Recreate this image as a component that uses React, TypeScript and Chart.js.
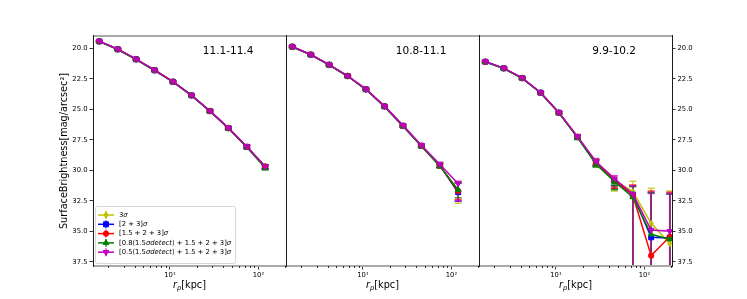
import { useEffect, useRef } from 'react';
import { Chart, registerables } from 'chart.js';

Chart.register(...registerables);
Chart.defaults.font.family = '"DejaVu Sans", sans-serif';

// ---------- data ----------
const RADII = [1.59, 2.57, 4.15, 6.7, 10.8, 17.5, 28.3, 45.7, 73.8, 119, 193];
const SERIES_LABELS = [
  '3σ',
  '[2 + 3]σ',
  '[1.5 + 2 + 3]σ',
  '[0.8(1.5σdetect) + 1.5 + 2 + 3]σ',
  '[0.5(1.5σdetect) + 1.5 + 2 + 3]σ',
];
const SERIES_COLORS = ['#bfbf00', '#0000ff', '#ff0000', '#008000', '#bf00bf'];
const SERIES_MARKERS = ['thinDiamond', 'rect', 'circle', 'triangle', 'triangleDown'];
const MARKER_RADII = [3, 3.5, 2.7, 3.3, 3.3];
const PANEL_TITLES = ['11.1-11.4', '10.8-11.1', '9.9-10.2'];
const Y_TICKS = [20, 22.5, 25, 27.5, 30, 32.5, 35, 37.5];
const X_MAJOR = [10, 100];
const X_MAJOR_LABELS = ['10¹', '10²'];
const X_MINOR = [2, 3, 4, 5, 6, 7, 8, 9, 20, 30, 40, 50, 60, 70, 80, 90, 200];
const Y_LIMITS = [18.99, 37.85];
const X_LIMITS = [1.349, 204.7];
const Y_TITLE = 'SurfaceBrightness[mag/arcsec²]';

// Panel A: 11.1-11.4
const A_3SIG = [19.43, 20.08, 20.9, 21.8, 22.74, 23.86, 25.14, 26.54, 28.07, 29.68];
const A_2_3 = [19.43, 20.08, 20.9, 21.8, 22.74, 23.86, 25.14, 26.54, 28.08, 29.72];
const A_15_2_3 = [19.43, 20.08, 20.9, 21.8, 22.74, 23.86, 25.14, 26.54, 28.08, 29.7];
const A_08 = [19.45, 20.1, 20.92, 21.82, 22.76, 23.88, 25.17, 26.57, 28.12, 29.82];
const A_05 = [19.42, 20.07, 20.89, 21.79, 22.73, 23.85, 25.13, 26.52, 28.05, 29.7];
const A_ERR = [0.06, 0.06, 0.06, 0.07, 0.07, 0.08, 0.09, 0.1, 0.12, 0.15];

// Panel B: 10.8-11.1
const B_3SIG = [19.87, 20.52, 21.35, 22.27, 23.36, 24.76, 26.35, 27.99, 29.6, 31.85];
const B_2_3 = [19.87, 20.52, 21.35, 22.27, 23.36, 24.76, 26.35, 27.99, 29.6, 31.8];
const B_15_2_3 = [19.87, 20.52, 21.35, 22.27, 23.36, 24.76, 26.36, 28.0, 29.62, 31.7];
const B_08 = [19.89, 20.54, 21.37, 22.29, 23.38, 24.79, 26.39, 28.03, 29.66, 31.62];
const B_05 = [19.86, 20.51, 21.34, 22.26, 23.35, 24.74, 26.32, 27.95, 29.5, 31.1];
const B_ERR = [0.06, 0.06, 0.06, 0.07, 0.07, 0.08, 0.09, 0.11, 0.15, 0.2];
// last point error bounds, per series
const B_TAIL_TOP = [[31.0], [31.05], [31.0], [31.0], [30.9]];
const B_TAIL_BOTTOM = [[32.7], [32.55], [32.4], [32.25], [32.5]];

// Panel C: 9.9-10.2
const C_3SIG = [21.1, 21.64, 22.44, 23.64, 25.28, 27.25, 29.35, 30.8, 31.75, 34.35, 36.0];
const C_2_3 = [21.1, 21.64, 22.44, 23.64, 25.28, 27.28, 29.4, 30.85, 32.0, 35.5, 35.55];
const C_15_2_3 = [21.1, 21.64, 22.44, 23.64, 25.28, 27.28, 29.4, 30.85, 32.05, 37.0, 35.45];
const C_08 = [21.12, 21.66, 22.46, 23.66, 25.3, 27.32, 29.5, 30.92, 32.2, 35.25, 35.65];
const C_05 = [21.08, 21.62, 22.42, 23.62, 25.26, 27.22, 29.28, 30.68, 31.95, 34.9, 35.0];
const C_ERR = [0.06, 0.06, 0.07, 0.07, 0.08, 0.15, 0.25, 0.3, 0.3, 0.3, 0.3];
// error bounds for the last four points, per series
const C_TAIL_TOP = [
  [31.05, 30.9, 31.48, 31.7],
  [31.25, 31.3, 31.8, 31.95],
  [31.35, 31.2, 31.7, 31.8],
  [31.2, 31.35, 31.85, 31.95],
  [30.45, 31.3, 31.9, 31.9],
];
const C_TAIL_BOTTOM = [
  [31.7, 45, 45, 45],
  [31.5, 45, 45, 45],
  [31.5, 45, 45, 45],
  [31.6, 45, 45, 45],
  [30.95, 45, 45, 45],
];

const PANELS = [
  { series: [A_3SIG, A_2_3, A_15_2_3, A_08, A_05], err: A_ERR, tailTop: null, tailBottom: null },
  { series: [B_3SIG, B_2_3, B_15_2_3, B_08, B_05], err: B_ERR, tailTop: B_TAIL_TOP, tailBottom: B_TAIL_BOTTOM },
  { series: [C_3SIG, C_2_3, C_15_2_3, C_08, C_05], err: C_ERR, tailTop: C_TAIL_TOP, tailBottom: C_TAIL_BOTTOM },
];

// ---------- drawing helpers ----------
function drawMarker(ctx: CanvasRenderingContext2D, style: string, x: number, y: number, r: number, color: string) {
  ctx.save();
  ctx.fillStyle = color;
  ctx.strokeStyle = color;
  ctx.lineWidth = 1;
  ctx.beginPath();
  if (style === 'thinDiamond') {
    ctx.moveTo(x, y - r * 1.1);
    ctx.lineTo(x + r * 0.66, y);
    ctx.lineTo(x, y + r * 1.1);
    ctx.lineTo(x - r * 0.66, y);
    ctx.closePath();
  } else if (style === 'rect') {
    const s = r * 1.414;
    ctx.rect(x - s / 2, y - s / 2, s, s);
  } else if (style === 'circle') {
    ctx.arc(x, y, r, 0, Math.PI * 2);
  } else if (style === 'triangle') {
    ctx.moveTo(x, y - r);
    ctx.lineTo(x + r * 0.866, y + r * 0.5);
    ctx.lineTo(x - r * 0.866, y + r * 0.5);
    ctx.closePath();
  } else {
    ctx.moveTo(x, y + r);
    ctx.lineTo(x + r * 0.866, y - r * 0.5);
    ctx.lineTo(x - r * 0.866, y - r * 0.5);
    ctx.closePath();
  }
  ctx.fill();
  ctx.stroke();
  ctx.restore();
}

let diamondCanvas: HTMLCanvasElement | null = null;
function getDiamond(): HTMLCanvasElement {
  if (!diamondCanvas) {
    const c = document.createElement('canvas');
    c.width = 7;
    c.height = 9;
    const cx = c.getContext('2d')!;
    drawMarker(cx, 'thinDiamond', 3.5, 4.5, MARKER_RADII[0], SERIES_COLORS[0]);
    diamondCanvas = c;
  }
  return diamondCanvas;
}

function mathRuns(text: string) {
  const runs: { t: string; it: boolean }[] = [];
  for (const ch of text) {
    const it = /[A-Za-zσ]/.test(ch);
    const last = runs[runs.length - 1];
    if (last && last.it === it) last.t += ch;
    else runs.push({ t: ch, it });
  }
  return runs;
}
function fontFor(it: boolean, size: number) {
  return `${it ? 'italic ' : ''}${size}px "DejaVu Sans"`;
}
function measureMath(ctx: CanvasRenderingContext2D, text: string, size: number) {
  let w = 0;
  for (const r of mathRuns(text)) {
    ctx.font = fontFor(r.it, size);
    w += ctx.measureText(r.t).width;
  }
  return w;
}
function drawMath(ctx: CanvasRenderingContext2D, text: string, x: number, y: number, size: number) {
  let cx = x;
  ctx.textAlign = 'left';
  for (const r of mathRuns(text)) {
    ctx.font = fontFor(r.it, size);
    ctx.fillText(r.t, cx, y);
    cx += ctx.measureText(r.t).width;
  }
}

const errorBarPlugin = {
  id: 'errorBars',
  beforeDatasetsDraw(chart: any) {
    const { ctx, chartArea, scales } = chart;
    ctx.save();
    ctx.beginPath();
    ctx.rect(chartArea.left, chartArea.top, chartArea.right - chartArea.left, chartArea.bottom - chartArea.top);
    ctx.clip();
    ctx.globalAlpha = 0.75;
    chart.data.datasets.forEach((ds: any) => {
      ctx.strokeStyle = ds.borderColor;
      ctx.lineWidth = 1.5;
      ds.data.forEach((p: any, i: number) => {
        const x = scales.x.getPixelForValue(p.x);
        const y1 = scales.y.getPixelForValue(ds.errTop[i]);
        const y2 = scales.y.getPixelForValue(ds.errBottom[i]);
        ctx.beginPath();
        ctx.moveTo(x, y1);
        ctx.lineTo(x, y2);
        ctx.moveTo(x - 3.5, y1);
        ctx.lineTo(x + 3.5, y1);
        ctx.moveTo(x - 3.5, y2);
        ctx.lineTo(x + 3.5, y2);
        ctx.stroke();
      });
    });
    ctx.restore();
  },
};

function makeDecor(panel: number) {
  return {
    id: 'decor' + panel,
    afterDraw(chart: any) {
      const { ctx, chartArea, scales } = chart;
      const { left, right, top, bottom } = chartArea;
      const w = right - left;
      ctx.save();
      // spines
      ctx.fillStyle = '#aaaaaa';
      ctx.fillRect(left, top - 1, w + 1, 2);
      ctx.fillRect(left, bottom - 1, w + 1, 2);
      ctx.fillStyle = '#1a1a1a';
      ctx.fillRect(left, top - 1, 1, bottom - top + 2);
      ctx.fillRect(right, top - 1, 1, bottom - top + 2);
      // minor x ticks
      ctx.strokeStyle = '#000';
      ctx.lineWidth = 0.8;
      ctx.beginPath();
      X_MINOR.forEach((v) => {
        const x = Math.round(scales.x.getPixelForValue(v)) + 0.5;
        if (x > left && x < right) {
          ctx.moveTo(x, bottom);
          ctx.lineTo(x, bottom + 2);
        }
      });
      ctx.stroke();
      // panel title
      ctx.fillStyle = '#000';
      ctx.font = '10.5px "DejaVu Sans"';
      ctx.textAlign = 'center';
      ctx.textBaseline = 'middle';
      ctx.fillText(PANEL_TITLES[panel], left + 0.7 * w, top + 15);
      // x title: r_p[kpc]
      const size = 9.7;
      ctx.textBaseline = 'alphabetic';
      ctx.font = fontFor(true, size);
      const wr = ctx.measureText('r').width;
      ctx.font = fontFor(true, size * 0.7);
      const wp = ctx.measureText('p').width;
      ctx.font = fontFor(false, size);
      const wk = ctx.measureText('[kpc]').width;
      let x0 = (left + right) / 2 - (wr + wp + wk) / 2;
      const by = 288;
      ctx.textAlign = 'left';
      ctx.font = fontFor(true, size);
      ctx.fillText('r', x0, by);
      x0 += wr;
      ctx.font = fontFor(true, size * 0.7);
      ctx.fillText('p', x0, by + 2);
      x0 += wp;
      ctx.font = fontFor(false, size);
      ctx.fillText('[kpc]', x0, by);
      // legend
      if (panel === 0) {
        const fs = 6.8;
        let maxW = 0;
        SERIES_LABELS.forEach((t) => (maxW = Math.max(maxW, measureMath(ctx, t, fs))));
        const bx = left + 2;
        const bh = 57;
        const by0 = bottom - 3 - bh;
        const bw = 24 + maxW + 4;
        ctx.globalAlpha = 0.8;
        ctx.fillStyle = '#fff';
        ctx.beginPath();
        ctx.roundRect(bx + 0.5, by0 + 0.5, bw, bh, 2);
        ctx.fill();
        ctx.globalAlpha = 1;
        ctx.strokeStyle = '#cccccc';
        ctx.lineWidth = 0.8;
        ctx.stroke();
        SERIES_LABELS.forEach((t, i) => {
          const ry = by0 + 9 + i * 9.3;
          const col = SERIES_COLORS[i];
          ctx.strokeStyle = col;
          ctx.lineWidth = 1.5;
          ctx.beginPath();
          ctx.moveTo(bx + 3, ry);
          ctx.lineTo(bx + 19, ry);
          ctx.stroke();
          ctx.globalAlpha = 0.75;
          ctx.beginPath();
          ctx.moveTo(bx + 11, ry - 4);
          ctx.lineTo(bx + 11, ry + 4);
          ctx.stroke();
          ctx.globalAlpha = 1;
          drawMarker(ctx, SERIES_MARKERS[i], bx + 11, ry, MARKER_RADII[i], col);
          ctx.fillStyle = '#000';
          ctx.textBaseline = 'middle';
          drawMath(ctx, t, bx + 24, ry, fs);
        });
      }
      ctx.restore();
    },
  };
}

function buildConfig(panel: number): any {
  const p = PANELS[panel];
  const datasets = p.series.map((vals, si) => {
    const n = vals.length;
    const tailT = p.tailTop ? p.tailTop[si] : [];
    const tailB = p.tailBottom ? p.tailBottom[si] : [];
    const start = n - tailT.length;
    const errTop = vals.map((v, i) => (i >= start ? tailT[i - start] : v - p.err[i]));
    const errBottom = vals.map((v, i) => (i >= start ? tailB[i - start] : v + p.err[i]));
    const m = SERIES_MARKERS[si];
    const color = SERIES_COLORS[si];
    return {
      label: SERIES_LABELS[si],
      data: vals.map((v, i) => ({ x: RADII[i], y: v })),
      borderColor: color,
      backgroundColor: color,
      pointBackgroundColor: color,
      pointBorderColor: color,
      pointStyle: m === 'thinDiamond' ? getDiamond() : m === 'triangleDown' ? 'triangle' : m,
      pointRotation: m === 'triangleDown' ? 180 : 0,
      pointRadius: MARKER_RADII[si],
      pointBorderWidth: 1,
      borderWidth: 1.5,
      tension: 0,
      order: 5 - si,
      errTop,
      errBottom,
    };
  });

  const tickGrid = {
    display: true,
    drawOnChartArea: false,
    drawTicks: true,
    tickLength: 3.5,
    tickColor: '#000',
    tickWidth: 0.8,
  };

  return {
    type: 'line',
    data: { datasets },
    plugins: [errorBarPlugin, makeDecor(panel)],
    options: {
      animation: false,
      responsive: false,
      events: [],
      layout: {
        padding: {
          left: panel === 0 ? 59 : panel === 1 ? 286 : 479,
          right: panel === 0 ? 461 : panel === 1 ? 268 : 0,
          top: 36,
          bottom: 0,
        },
      },
      plugins: { legend: { display: false }, tooltip: { enabled: false } },
      scales: {
        x: {
          type: 'logarithmic',
          min: X_LIMITS[0],
          max: X_LIMITS[1],
          afterFit: (s: any) => {
            s.height = 33;
          },
          afterBuildTicks: (s: any) => {
            s.ticks = X_MAJOR.map((v) => ({ value: v, major: true }));
          },
          ticks: {
            callback: (_v: any, i: number) => X_MAJOR_LABELS[i] ?? '',
            font: { size: 6.8 },
            color: '#000',
            padding: 1.5,
            maxRotation: 0,
            autoSkip: false,
          },
          grid: tickGrid,
          border: { display: false },
        },
        y: {
          type: 'linear',
          reverse: true,
          min: Y_LIMITS[0],
          max: Y_LIMITS[1],
          display: panel !== 1,
          position: panel === 2 ? 'right' : 'left',
          afterFit: (s: any) => {
            s.width = panel === 0 ? 34 : panel === 1 ? 0 : 75;
          },
          afterBuildTicks: (s: any) => {
            s.ticks = Y_TICKS.map((v) => ({ value: v }));
          },
          ticks: {
            callback: (v: any) => Number(v).toFixed(1),
            font: { size: 6.8 },
            color: '#000',
            padding: 2,
          },
          grid: tickGrid,
          border: { display: false },
          title:
            panel === 0
              ? { display: true, text: Y_TITLE, font: { size: 9.7 }, color: '#000', padding: 0 }
              : { display: false },
        },
      },
    },
  };
}

function Panel({ idx }: { idx: number }) {
  const ref = useRef<HTMLCanvasElement>(null);
  useEffect(() => {
    const chart = new Chart(ref.current!, buildConfig(idx));
    return () => chart.destroy();
  }, [idx]);
  return (
    <canvas
      ref={ref}
      width={747}
      height={299}
      style={{ position: 'absolute', left: 0, top: 0, width: 747, height: 299 }}
    />
  );
}

export default function App() {
  return (
    <div style={{ position: 'absolute', left: 0, top: 0, width: 747, height: 299, background: '#fff' }}>
      {[0, 1, 2].map((i) => (
        <Panel key={i} idx={i} />
      ))}
    </div>
  );
}
